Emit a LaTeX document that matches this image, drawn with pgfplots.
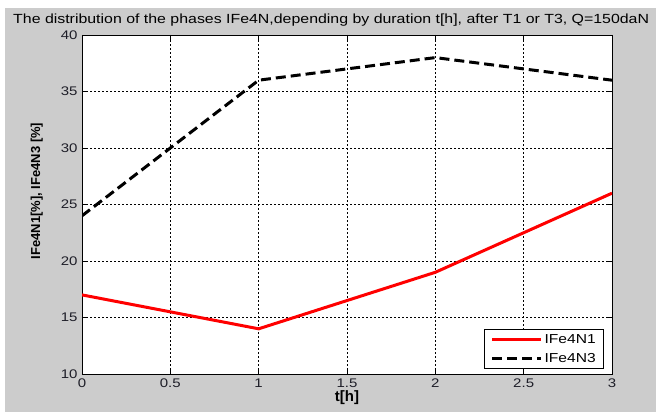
\documentclass[border=0pt]{standalone}
\usepackage{fontspec}
\setmainfont{Liberation Sans}
% wide-set face for title, ticks and legend
\newfontfamily\widefont[FakeStretch=1.2]{Liberation Sans}
\usepackage{pgfplots}
\pgfplotsset{compat=1.18}
\definecolor{figgray}{RGB}{204,204,204}
\definecolor{ticktext}{RGB}{30,30,40}
\begin{document}
\begin{tikzpicture}[x=1pt,y=1pt]
\useasboundingbox (0,0) rectangle (656,412);
\clip (0,0) rectangle (656,412);
% figure background
\fill[white] (0,0) rectangle (656,412);
\fill[figgray] (5,0) rectangle (656,404);
% title
\node[anchor=base west, inner sep=0pt, font=\widefont\fontsize{13.25}{15}\selectfont]
  at (13,388) {The distribution of the phases IFe4N,depending by duration t[h], after T1 or T3, Q=150daN};
\begin{axis}[
  at={(82pt,38pt)}, anchor=south west,
  scale only axis, width=530pt, height=339pt,
  xmin=0, xmax=3, ymin=10, ymax=40,
  xtick={0,0.5,...,3}, ytick={10,15,...,40},
  axis background/.style={fill=white},
  axis line style={black, line width=0.8pt},
  tick style={black, line width=0.6pt},
  major tick length=5pt,
  grid=major,
  major grid style={black, line width=0.5pt, dash pattern=on 2pt off 2pt},
  ticklabel style={font=\widefont\fontsize{12.5}{15}\selectfont, text=ticktext},
  /pgf/number format/assume math mode=true,
  yticklabel style={xshift=-1pt},
  xticklabel style={yshift=-1pt},
  xlabel={\textbf{t[h]}},
  ylabel={\textbf{IFe4N1[\%], IFe4N3 [\%]}},
  xlabel style={font=\fontsize{15}{17}\selectfont, yshift=4pt},
  ylabel style={font=\fontsize{13}{15}\selectfont, at={(ticklabel cs:0.54)}, yshift=11pt},
  legend style={at={(rel axis cs:1,0)}, anchor=south east, xshift=-8pt, yshift=5pt,
    draw=black, line width=0.6pt, font=\widefont\fontsize{13}{15}\selectfont,
    inner xsep=6pt, inner ysep=3pt, row sep=4pt},
  legend cell align=left,
  legend image code/.code={\draw[#1] (0pt,0pt) -- (49pt,0pt);},
]
\addplot[red, line width=3pt] coordinates {(0,17) (1,14) (2,19) (3,26)};
\addlegendentry{IFe4N1}
\addplot[black, line width=3pt, dash pattern=on 10pt off 5pt] coordinates {(0,24) (1,36) (2,38) (3,36)};
\addlegendentry{IFe4N3}
\end{axis}
\end{tikzpicture}
\end{document}
